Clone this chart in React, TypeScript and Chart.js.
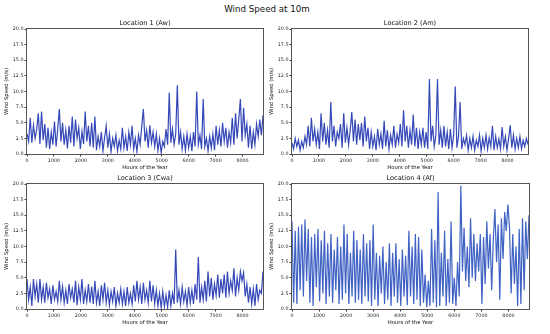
import React, { useEffect, useRef } from 'react';
import { Chart, registerables } from 'chart.js';

Chart.register(...registerables);

const MAIN_TITLE = 'Wind Speed at 10m';
const PANEL_TITLES = ['Location 1 (Aw)', 'Location 2 (Am)', 'Location 3 (Cwa)', 'Location 4 (Af)'];
const X_LABEL = 'Hours of the Year';
const Y_LABEL = 'Wind Speed (m/s)';
const HOUR_STEP = 60;
const X_MAX = 8760;
const Y_MAX = 20;
const X_TICKS = [0, 1000, 2000, 3000, 4000, 5000, 6000, 7000, 8000];
const Y_TICKS = [0, 2.5, 5, 7.5, 10, 12.5, 15, 17.5, 20];

const LOC1 = [
  3.2, 2.0, 5.8, 1.8, 4.6, 2.5, 3.9, 6.5, 1.6, 6.8,
  2.2, 4.8, 1.0, 4.2, 0.8, 3.5, 1.5, 5.2, 1.2, 4.0,
  7.2, 2.0, 5.0, 1.5, 3.8, 0.9, 4.5, 1.8, 6.0, 1.2,
  5.5, 2.5, 4.2, 0.8, 3.6, 1.6, 6.8, 2.0, 4.5, 1.2,
  5.0, 1.0, 6.0, 0.6, 2.8, 1.2, 3.5, 0.5, 2.6, 4.5,
  1.0, 3.2, 0.4, 2.5, 1.2, 3.0, 0.5, 2.2, 0.8, 4.2,
  1.0, 2.8, 0.5, 3.5, 1.5, 4.5, 0.8, 2.5, 0.4, 3.0,
  1.5, 4.5, 7.2, 2.0, 3.8, 1.0, 4.6, 1.8, 3.5, 1.2,
  3.2, 0.5, 2.5, 0.2, 2.0, 1.2, 4.0, 1.5, 9.8, 1.8,
  4.0, 1.5, 3.2, 11.0, 1.5, 3.5, 0.8, 2.8, 0.6, 3.2,
  1.0, 2.8, 0.5, 3.5, 1.2, 10.0, 1.5, 3.0, 0.8, 8.8,
  1.2, 2.5, 0.5, 2.8, 1.0, 3.2, 0.6, 4.5, 1.5, 3.8,
  1.2, 5.0, 2.0, 4.2, 1.0, 3.5, 1.8, 5.8, 1.5, 6.5,
  2.5, 5.5, 8.8, 2.0, 7.4, 3.0, 4.8, 1.0, 4.5, 0.8,
  3.5, 1.5, 4.8, 2.8, 5.5, 3.0, 6.2,
];

const LOC2 = [
  1.8, 0.8, 2.5, 1.2, 2.2, 0.6, 2.0, 1.0, 2.8, 1.5,
  4.5, 1.2, 5.8, 2.0, 4.0, 1.5, 3.5, 0.8, 6.5, 2.0,
  5.0, 1.5, 3.8, 1.0, 8.3, 2.0, 4.5, 1.2, 3.5, 2.5,
  4.8, 1.0, 6.5, 1.8, 4.2, 1.5, 3.8, 6.7, 2.0, 5.5,
  1.5, 4.8, 2.2, 5.0, 1.2, 6.0, 2.0, 4.2, 0.8, 3.5,
  1.2, 2.8, 0.6, 4.0, 1.5, 3.2, 0.8, 5.3, 1.2, 3.8,
  0.8, 3.0, 1.5, 4.5, 1.0, 3.2, 1.8, 4.8, 1.2, 7.0,
  2.0, 4.5, 1.0, 3.8, 1.5, 6.3, 1.2, 4.2, 0.8, 3.5,
  1.5, 4.2, 1.0, 3.5, 0.8, 12.0, 2.0, 4.5, 1.2, 3.0,
  12.0, 1.5, 3.8, 1.0, 4.5, 1.2, 3.5, 0.8, 4.0, 1.0,
  3.0, 10.8, 1.0, 2.8, 8.3, 0.8, 2.5, 1.5, 3.0, 0.6,
  2.5, 1.0, 2.8, 0.6, 2.2, 1.2, 3.0, 0.5, 2.5, 1.0,
  3.0, 0.8, 2.6, 1.2, 4.5, 0.6, 2.8, 1.0, 2.4, 0.8,
  4.3, 1.2, 2.8, 0.6, 2.5, 4.6, 1.0, 3.0, 0.8, 2.5,
  1.0, 2.8, 0.8, 2.2, 1.2, 2.5, 1.5,
];

const LOC3 = [
  4.8, 1.5, 3.5, 0.5, 4.8, 2.0, 4.0, 1.0, 4.8, 1.5,
  3.5, 1.0, 4.2, 1.8, 3.2, 0.8, 3.8, 1.5, 2.8, 1.2,
  4.5, 1.5, 3.6, 1.0, 3.0, 0.8, 4.0, 1.8, 3.2, 1.0,
  4.5, 0.6, 3.5, 1.5, 4.8, 0.8, 3.0, 1.2, 4.0, 1.0,
  3.6, 0.8, 4.5, 1.0, 2.8, 0.5, 3.8, 1.5, 4.2, 1.0,
  3.0, 0.6, 2.8, 1.2, 3.5, 0.5, 2.5, 1.0, 3.2, 0.8,
  2.8, 0.5, 3.5, 1.0, 2.5, 0.8, 3.8, 1.2, 4.5, 1.5,
  3.5, 0.8, 4.2, 1.5, 3.0, 1.0, 4.5, 1.2, 3.8, 0.8,
  3.0, 0.5, 2.5, 0.2, 2.8, 0.4, 2.2, 0.3, 3.0, 0.5,
  2.5, 0.8, 9.5, 1.0, 3.0, 0.8, 3.5, 1.2, 2.8, 0.6,
  3.5, 1.0, 3.0, 0.8, 4.0, 1.5, 8.3, 1.0, 3.5, 1.5,
  4.5, 1.2, 6.0, 2.0, 5.0, 1.5, 4.0, 2.2, 5.5, 1.8,
  4.8, 2.5, 5.5, 1.8, 6.0, 2.5, 4.5, 3.0, 6.5, 2.0,
  5.0, 3.0, 6.0, 4.5, 5.8, 2.0, 4.0, 1.0, 3.5, 0.8,
  3.2, 0.5, 4.0, 1.5, 3.0, 2.5, 6.0,
];

const LOC4 = [
  14.0, 1.0, 12.5, 0.8, 13.2, 3.0, 13.5, 2.0, 14.3, 4.5,
  12.8, 1.0, 11.5, 0.5, 12.0, 3.5, 12.8, 1.2, 11.0, 2.5,
  12.5, 0.8, 10.5, 2.0, 12.0, 1.0, 9.5, 3.0, 11.5, 0.8,
  10.0, 1.5, 13.5, 2.5, 12.0, 0.8, 9.0, 2.0, 12.5, 1.0,
  11.0, 1.5, 9.5, 0.8, 12.0, 2.0, 10.5, 1.2, 11.0, 0.5,
  13.5, 1.5, 9.0, 0.5, 8.5, 2.5, 10.0, 0.8, 7.5, 1.5,
  10.5, 0.5, 9.0, 2.0, 10.5, 1.0, 8.0, 0.5, 9.5, 2.0,
  8.5, 0.6, 12.5, 2.0, 10.0, 0.8, 12.0, 1.5, 11.5, 0.5,
  9.5, 1.0, 5.5, 0.3, 4.5, 0.5, 12.8, 1.0, 11.0, 0.3,
  18.7, 0.5, 9.0, 2.0, 12.5, 0.5, 8.0, 1.0, 14.0, 0.8,
  5.0, 0.5, 7.5, 2.0, 19.7, 6.0, 13.0, 4.5, 10.0, 3.5,
  14.5, 5.0, 12.0, 4.5, 10.5, 6.0, 12.0, 0.8, 11.5, 4.0,
  14.0, 6.5, 12.0, 3.0, 11.0, 16.0, 7.5, 13.5, 1.5, 14.5,
  8.0, 15.5, 12.5, 16.7, 13.0, 2.5, 12.0, 4.0, 10.0, 0.5,
  12.8, 0.8, 14.5, 3.0, 14.0, 8.0, 15.0,
];

const SERIES = [LOC1, LOC2, LOC3, LOC4];
const LINE_COLORS = ['#3548b8', '#3548b8', '#3548b8', '#3f62c4'];
const FONT = "'DejaVu Sans', 'Liberation Sans', sans-serif";

const framePlugin = {
  id: 'frame',
  afterDraw(chart: any) {
    const { ctx, chartArea: a } = chart;
    ctx.save();
    ctx.strokeStyle = '#555';
    ctx.lineWidth = 1;
    ctx.strokeRect(Math.round(a.left) - 0.5, Math.round(a.top) - 0.5, Math.round(a.right - a.left) + 1, Math.round(a.bottom - a.top) + 1);
    ctx.restore();
  },
};

type PanelProps = {
  idx: number;
  left: number;
  top: number;
  width: number;
  height: number;
  padRight: number;
};

function Panel({ idx, left, top, width, height, padRight }: PanelProps) {
  const ref = useRef<HTMLCanvasElement | null>(null);
  useEffect(() => {
    if (!ref.current) return;
    const values = SERIES[idx];
    const chart = new Chart(ref.current, {
      type: 'line',
      data: {
        datasets: [
          {
            data: values.map((v, i) => ({ x: i * HOUR_STEP, y: v })),
            borderColor: LINE_COLORS[idx],
            borderWidth: 1.2,
            pointRadius: 0,
            tension: 0,
            fill: false,
          },
        ],
      },
      options: {
        animation: false,
        responsive: false,
        events: [],
        layout: { padding: { left: 0, right: padRight, top: 0, bottom: 0 } },
        plugins: {
          legend: { display: false },
          tooltip: { enabled: false },
          title: {
            display: true,
            text: PANEL_TITLES[idx],
            fullSize: false,
            color: '#111',
            font: { family: FONT, size: 6.6, weight: 'normal', lineHeight: '8px' },
            padding: { top: 5, bottom: 2 },
          },
        },
        scales: {
          x: {
            type: 'linear',
            min: 0,
            max: X_MAX,
            afterBuildTicks: (s: any) => {
              s.ticks = X_TICKS.map((v) => ({ value: v }));
            },
            afterFit: (s: any) => {
              s.height = 23;
            },
            grid: { drawOnChartArea: false, drawTicks: true, tickLength: 2.5, color: '#333' },
            border: { display: false },
            ticks: {
              font: { family: FONT, size: 4.8 },
              color: '#222',
              padding: 1,
              maxRotation: 0,
              autoSkip: false,
              callback: (v: any) => String(v),
            },
            title: {
              display: true,
              text: X_LABEL,
              color: '#111',
              font: { family: FONT, size: 5.3 },
              padding: { top: 0, bottom: 6 },
            },
          },
          y: {
            type: 'linear',
            min: 0,
            max: Y_MAX,
            afterBuildTicks: (s: any) => {
              s.ticks = Y_TICKS.map((v) => ({ value: v }));
            },
            afterFit: (s: any) => {
              s.width = 27;
            },
            grid: { drawOnChartArea: false, drawTicks: true, tickLength: 2.5, color: '#333' },
            border: { display: false },
            ticks: {
              font: { family: FONT, size: 4.8 },
              color: '#222',
              padding: 1,
              autoSkip: false,
              callback: (v: any) => Number(v).toFixed(1),
            },
            title: {
              display: true,
              text: Y_LABEL,
              color: '#111',
              font: { family: FONT, size: 5.3 },
              padding: { top: 3, bottom: 0 },
            },
          },
        },
      },
      plugins: [framePlugin],
    } as any);
    return () => chart.destroy();
  }, [idx, padRight]);
  return (
    <div style={{ position: 'absolute', left, top, width, height }}>
      <canvas ref={ref} width={width} height={height} style={{ width, height, display: 'block' }} />
    </div>
  );
}

export default function App() {
  return (
    <div style={{ position: 'absolute', left: 0, top: 0, width: 550, height: 334, background: '#fff', overflow: 'hidden' }}>
      <div
        style={{
          position: 'absolute',
          left: 0,
          top: 3,
          width: 534,
          textAlign: 'center',
          fontFamily: FONT,
          fontSize: 8.7,
          lineHeight: '12px',
          color: '#111',
        }}
      >
        {MAIN_TITLE}
      </div>
      <Panel idx={0} left={0} top={14} width={265} height={163} padRight={2} />
      <Panel idx={1} left={265} top={14} width={275} height={163} padRight={12} />
      <Panel idx={2} left={0} top={169} width={265} height={163} padRight={2} />
      <Panel idx={3} left={265} top={169} width={275} height={163} padRight={11} />
    </div>
  );
}
